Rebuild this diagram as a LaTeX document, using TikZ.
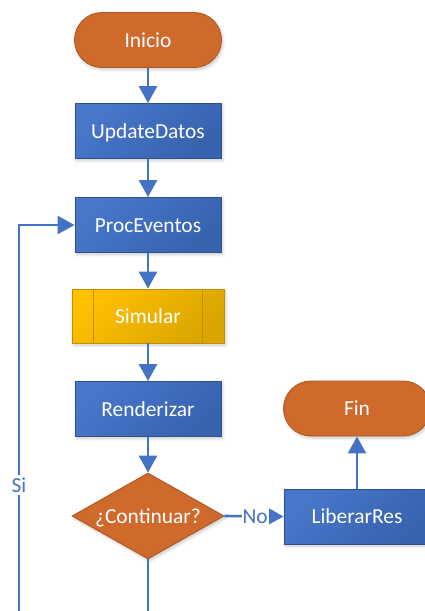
\documentclass[tikz,border=0pt]{standalone}
\usepackage{fontspec}
\setmainfont{Carlito}
\usetikzlibrary{arrows.meta,shapes.geometric,shadows.blur}

\definecolor{flowline}{HTML}{4472C4}
\definecolor{termfill}{HTML}{D06A2C}
\definecolor{termline}{HTML}{AE5824}
\definecolor{procA}{HTML}{4877CA}
\definecolor{procB}{HTML}{3762AE}
\definecolor{procline}{HTML}{2F528F}
\definecolor{subA}{HTML}{FFC000}
\definecolor{subB}{HTML}{DAA500}
\definecolor{subline}{HTML}{BF9000}

\tikzset{
  base/.style={font=\fontsize{21.4}{25}\selectfont, text=white, line width=0.9pt,
    inner sep=0pt, text height=16.5pt, text depth=2pt,
    blur shadow={shadow xshift=1.5pt, shadow yshift=-2pt, shadow blur steps=6,
      shadow blur radius=3pt, shadow opacity=22}},
  terminal/.style={base, rectangle, rounded corners=27.5pt, minimum width=147pt,
    minimum height=55pt, draw=termline, fill=termfill},
  process/.style={base, rectangle, minimum width=146pt, minimum height=55pt,
    draw=procline, top color=procA, bottom color=procB, shading angle=45},
  subproc/.style={base, rectangle, minimum width=152pt, minimum height=54pt,
    draw=subline, top color=subA, bottom color=subB, shading angle=45},
  decision/.style={base, diamond, minimum width=152pt, minimum height=86pt,
    draw=termline, fill=termfill},
  flow/.style={draw=flowline, line width=2.6pt,
    -{Triangle[length=17pt,width=18pt]}},
  flowplain/.style={draw=flowline, line width=2.6pt},
  lbl/.style={font=\fontsize{21.4}{25}\selectfont, text=flowline, fill=white,
    inner sep=1pt, text height=16.5pt, text depth=2pt}
}

\begin{document}
\begin{tikzpicture}[x=1pt,y=-1pt]
  \useasboundingbox (0,0) rectangle (425,611);
  \clip (0,0) rectangle (425,611);

  % main column
  \node[terminal] (inicio) at (148,40)  {Inicio};
  \node[process]  (update) at (148,131) {UpdateDatos};
  \node[process]  (proc)   at (148,225) {ProcEventos};
  \node[subproc]  (sim)    at (148,316) {Simular};
  \node[process]  (render) at (148,409) {Renderizar};
  \node[decision] (cont)   at (148,516) {\makebox[0pt]{¿Continuar?}};

  % exit branch
  \node[process]  (liberar) at (357,516.5) {LiberarRes};
  \node[terminal] (fin)     at (357,408.5) {Fin};

  % side bars of the predefined process
  \draw[subline, line width=0.9pt]
    ([xshift=22pt]sim.north west) -- ([xshift=22pt]sim.south west)
    ([xshift=-22pt]sim.north east) -- ([xshift=-22pt]sim.south east);

  % loose ends of the loop below the decision
  \coordinate (down) at (148,611);
  \coordinate (siA)  at (19,611);
  \coordinate (siB)  at (siA |- proc.west);

  % connectors
  \draw[flow] (inicio) -- (update);
  \draw[flow] (update) -- (proc);
  \draw[flow] (proc) -- (sim);
  \draw[flow] (sim) -- (render);
  \draw[flow] (render) -- (cont);
  \draw[flow] (cont.east) -- node[lbl, pos=0.52] {No} (liberar.west);
  \draw[flow] (liberar) -- (fin);
  \draw[flowplain] (cont.south) -- (down);
  \draw[flow] (siA) -- node[lbl, pos=0.326] {Si} (siB) -- (proc.west);
\end{tikzpicture}
\end{document}
